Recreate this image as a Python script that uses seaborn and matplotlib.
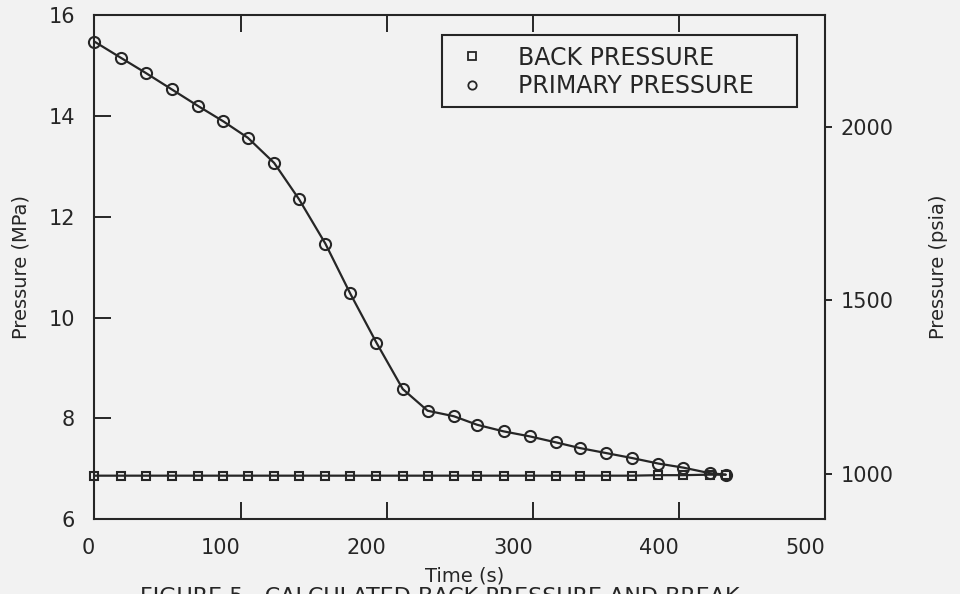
import matplotlib
matplotlib.use("Agg")
import matplotlib.pyplot as plt
from matplotlib.lines import Line2D
from matplotlib.patches import Rectangle
import seaborn as sns
import pandas as pd

# Sample times (s)
time_s = [0, 18, 35, 53, 71, 88, 105, 123, 140, 158, 175, 193, 211,
          228, 246, 262, 280, 298, 316, 332, 350, 368, 386, 403, 421, 432]

# Primary system pressure (MPa)
primary_mpa = [15.48, 15.16, 14.86, 14.53, 14.20, 13.90, 13.57, 13.07, 12.35,
               11.47, 10.48, 9.50, 8.58, 8.15, 8.04, 7.87, 7.74, 7.64, 7.52,
               7.41, 7.31, 7.21, 7.10, 7.02, 6.91, 6.88]

# Back pressure (MPa)
back_mpa = [6.86, 6.86, 6.86, 6.86, 6.86, 6.86, 6.86, 6.86, 6.86, 6.86,
            6.86, 6.86, 6.86, 6.86, 6.86, 6.86, 6.86, 6.86, 6.86, 6.86,
            6.86, 6.86, 6.87, 6.87, 6.88, 6.88]

series_labels = ["BACK PRESSURE", "PRIMARY PRESSURE"]
x_ticks = [0, 100, 200, 300, 400, 500]
y_ticks_mpa = [6, 8, 10, 12, 14, 16]
y_ticks_psia = [1000, 1500, 2000]
MPA_TO_PSIA = 145.038

caption = "FIGURE 5.  CALCULATED BACK PRESSURE AND BREAK"

sns.set_theme(style="ticks")
plt.rcParams["font.family"] = ["DejaVu Sans"]

bg = "#f2f2f2"
ink = "#262626"

fig = plt.figure(figsize=(9.6, 5.94), dpi=100, facecolor=bg)
ax = fig.add_axes([0.0984, 0.1263, 0.7610, 0.8477])
ax.set_facecolor(bg)

df_back = pd.DataFrame({"t": time_s, "p": back_mpa})
df_prim = pd.DataFrame({"t": time_s, "p": primary_mpa})

sns.lineplot(data=df_back, x="t", y="p", ax=ax, color=ink, linewidth=1.6,
             marker="s", markersize=6, markerfacecolor="none",
             markeredgecolor=ink, markeredgewidth=1.5, clip_on=False)
sns.lineplot(data=df_prim, x="t", y="p", ax=ax, color=ink, linewidth=1.6,
             marker="o", markersize=8, markerfacecolor="none",
             markeredgecolor=ink, markeredgewidth=1.5, clip_on=False)

ax.set_xlim(0, 500)
ax.set_ylim(6, 16)
ax.set_xticks(x_ticks)
ax.set_yticks(y_ticks_mpa)
ax.set_xlabel("Time (s)", fontsize=14, color=ink)
ax.xaxis.set_label_coords(0.507, -0.095)
ax.set_ylabel("Pressure (MPa)", fontsize=14, color=ink, labelpad=13)
ax.tick_params(axis="both", direction="in", length=12, width=1.4,
               colors=ink, labelsize=15, top=True, right=True)
ax.tick_params(axis="x", pad=14)
ax.tick_params(axis="y", pad=14)
for lbl in ax.get_xticklabels():
    lbl.set_horizontalalignment("right")
for s in ax.spines.values():
    s.set_visible(True)
    s.set_linewidth(1.5)
    s.set_color(ink)

# Secondary scale in psia
ax2 = ax.twinx()
ax2.set_ylim(6 * MPA_TO_PSIA, 16 * MPA_TO_PSIA)
ax2.set_yticks(y_ticks_psia)
ax2.set_ylabel("Pressure (psia)", fontsize=14, color=ink, labelpad=26)
ax2.tick_params(axis="y", direction="out", length=5, width=1.4,
                colors=ink, labelsize=15, pad=6)
for s in ax2.spines.values():
    s.set_visible(False)

# Legend: marker-only keys inside a wide rectangular box
ax.add_patch(Rectangle((0.4757, 0.819), 0.4860, 0.143, transform=ax.transAxes,
                       facecolor=bg, edgecolor=ink, linewidth=1.5, zorder=4))
handles = [
    Line2D([], [], linestyle="none", marker="s", markersize=6,
           markerfacecolor="none", markeredgecolor=ink, markeredgewidth=1.3),
    Line2D([], [], linestyle="none", marker="o", markersize=6,
           markerfacecolor="none", markeredgecolor=ink, markeredgewidth=1.3),
]
leg = ax.legend(handles, series_labels, loc="upper left",
                bbox_to_anchor=(0.4798, 0.966), frameon=False,
                fontsize=17, handlelength=1.2, handletextpad=1.35,
                borderpad=0.55, labelspacing=0.2, borderaxespad=0)
leg.set_zorder(5)
for t in leg.get_texts():
    t.set_color(ink)

# Caption, partly running off the lower edge
fig.text(0.458, -0.022, caption, ha="center", va="bottom", fontsize=16,
         color=ink)

fig.savefig("out.png", dpi=100, facecolor=bg)
